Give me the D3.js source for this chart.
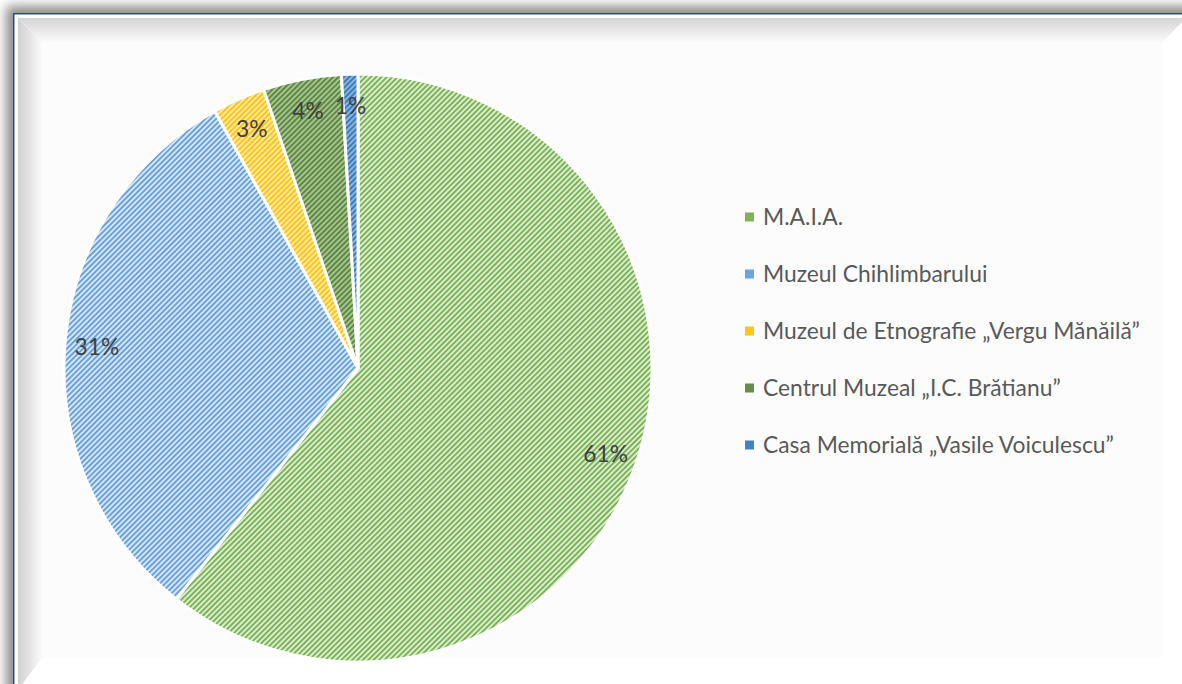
<!DOCTYPE html>
<html>
<head>
<meta charset="utf-8">
<script src="https://cdn.jsdelivr.net/npm/d3@7"></script>
<style>
  body { margin: 0; background: #fff; }
  svg { display: block; }
</style>
</head>
<body>
<svg id="chart"></svg>
<script>
// chart data
var categories = ['M.A.I.A.', 'Muzeul Chihlimbarului', 'Muzeul de Etnografie „Vergu Mănăilă”',
  'Centrul Muzeal „I.C. Brătianu”', 'Casa Memorială „Vasile Voiculescu”'];
var values = [60.6, 31.3, 2.9, 4.3, 0.9];
var colors = ['#70AD47', '#5B9BD5', '#FFC000', '#548235', '#2E75B6'];
var tints = ['#dcecd0', '#d6e5f5', '#ffe9a6', '#a7c293', '#8db4dd'];

var W = 1182, H = 684;
var svg = d3.select('#chart').attr('width', W).attr('height', H);
var defs = svg.append('defs');

// frame shadow
var blur = defs.append('filter').attr('id', 'shadow')
  .attr('x', '-5%').attr('y', '-5%').attr('width', '110%').attr('height', '110%');
blur.append('feGaussianBlur').attr('stdDeviation', 6);

svg.append('rect')
  .attr('x', 6).attr('y', 6).attr('width', W + 40).attr('height', H + 40)
  .attr('fill', '#8a8a8a').attr('filter', 'url(#shadow)');

svg.append('rect')
  .attr('x', 14).attr('y', 14).attr('width', W + 40).attr('height', H + 40)
  .attr('fill', '#fcfcfc').attr('stroke', '#2c4a85').attr('stroke-width', 2);

// bevel
var gTop = defs.append('linearGradient').attr('id', 'bevTop')
  .attr('x1', 0).attr('y1', 0).attr('x2', 0).attr('y2', 1);
gTop.append('stop').attr('offset', 0).attr('stop-color', '#d4d4d4');
gTop.append('stop').attr('offset', 1).attr('stop-color', '#fbfbfb');
var gLeft = defs.append('linearGradient').attr('id', 'bevLeft')
  .attr('x1', 0).attr('y1', 0).attr('x2', 1).attr('y2', 0);
gLeft.append('stop').attr('offset', 0).attr('stop-color', '#cfcfcf');
gLeft.append('stop').attr('offset', 1).attr('stop-color', '#fbfbfb');

var o = 18, i = 42, rO = 1186, rI = 1163, bO = 690, bI = 658;
svg.append('polygon')
  .attr('points', [[o, o], [rO, o], [rI, i], [i, i]].join(' '))
  .attr('fill', 'url(#bevTop)');
svg.append('polygon')
  .attr('points', [[o, o], [i, i], [i, bI], [o, bO]].join(' '))
  .attr('fill', 'url(#bevLeft)');
svg.append('polygon')
  .attr('points', [[rI, i], [rO, o], [rO, bO], [rI, bI]].join(' '))
  .attr('fill', '#ffffff');
svg.append('polygon')
  .attr('points', [[i, bI], [rI, bI], [rO, bO], [o, bO]].join(' '))
  .attr('fill', '#ffffff');
svg.append('rect')
  .attr('x', 15.5).attr('y', 15.5).attr('width', W).attr('height', H)
  .attr('fill', 'none').attr('stroke', '#ffffff').attr('stroke-width', 2);

// hatch patterns
colors.forEach(function (c, k) {
  var p = defs.append('pattern').attr('id', 'hatch' + k)
    .attr('patternUnits', 'userSpaceOnUse')
    .attr('width', 3.8).attr('height', 3.8)
    .attr('patternTransform', 'rotate(45)');
  p.append('rect').attr('width', 3.8).attr('height', 3.8).attr('fill', tints[k]);
  p.append('rect').attr('width', 1.7).attr('height', 3.8).attr('fill', c);
});

// pie
var cx = 358, cy = 368, R = 294;
var pie = d3.pie().sort(null).value(function (d) { return d; });
var arc = d3.arc().innerRadius(0).outerRadius(R);
var labelArc = d3.arc().innerRadius(262).outerRadius(262);
var arcs = pie(values);

var chart = svg.append('g').attr('transform', 'translate(' + cx + ',' + cy + ')');

chart.selectAll('.slice')
  .data(arcs)
  .enter().append('path')
  .attr('class', 'slice')
  .attr('d', arc)
  .attr('fill', function (d, k) { return 'url(#hatch' + k + ')'; })
  .attr('stroke', '#ffffff')
  .attr('stroke-width', 3)
  .attr('stroke-linejoin', 'round');

// legend
var legend = svg.append('g').attr('transform', 'translate(745, 217)');
var items = legend.selectAll('.item')
  .data(categories)
  .enter().append('g')
  .attr('class', 'item')
  .attr('transform', function (d, k) { return 'translate(0,' + (k * 57) + ')'; });

items.append('rect')
  .attr('x', 0).attr('y', -4.5).attr('width', 9).attr('height', 9)
  .attr('fill', function (d, k) { return colors[k]; })
  .attr('opacity', 0.9);

var texts = items.append('text')
  .attr('x', 18).attr('y', 0)
  .attr('dy', '0.35em')
  .attr('font-family', 'Lato, "Open Sans", sans-serif')
  .attr('font-size', 20)
  .attr('fill', '#595959')
  .text(function (d) { return d; });

// fit legend text to the width in the picture
var widest = d3.max(texts.nodes(), function (n) { return n.getComputedTextLength(); });
var fs = 20 * 377 / widest;
texts.attr('font-size', fs);

chart.selectAll('.label')
  .data(arcs)
  .enter().append('text')
  .attr('class', 'label')
  .attr('transform', function (d) { return 'translate(' + labelArc.centroid(d) + ')'; })
  .attr('text-anchor', 'middle')
  .attr('dy', '0.35em')
  .attr('font-family', 'Lato, "Open Sans", sans-serif')
  .attr('font-size', fs)
  .attr('fill', '#404040')
  .text(function (d) { return Math.round(d.value) + '%'; });
</script>
</body>
</html>
